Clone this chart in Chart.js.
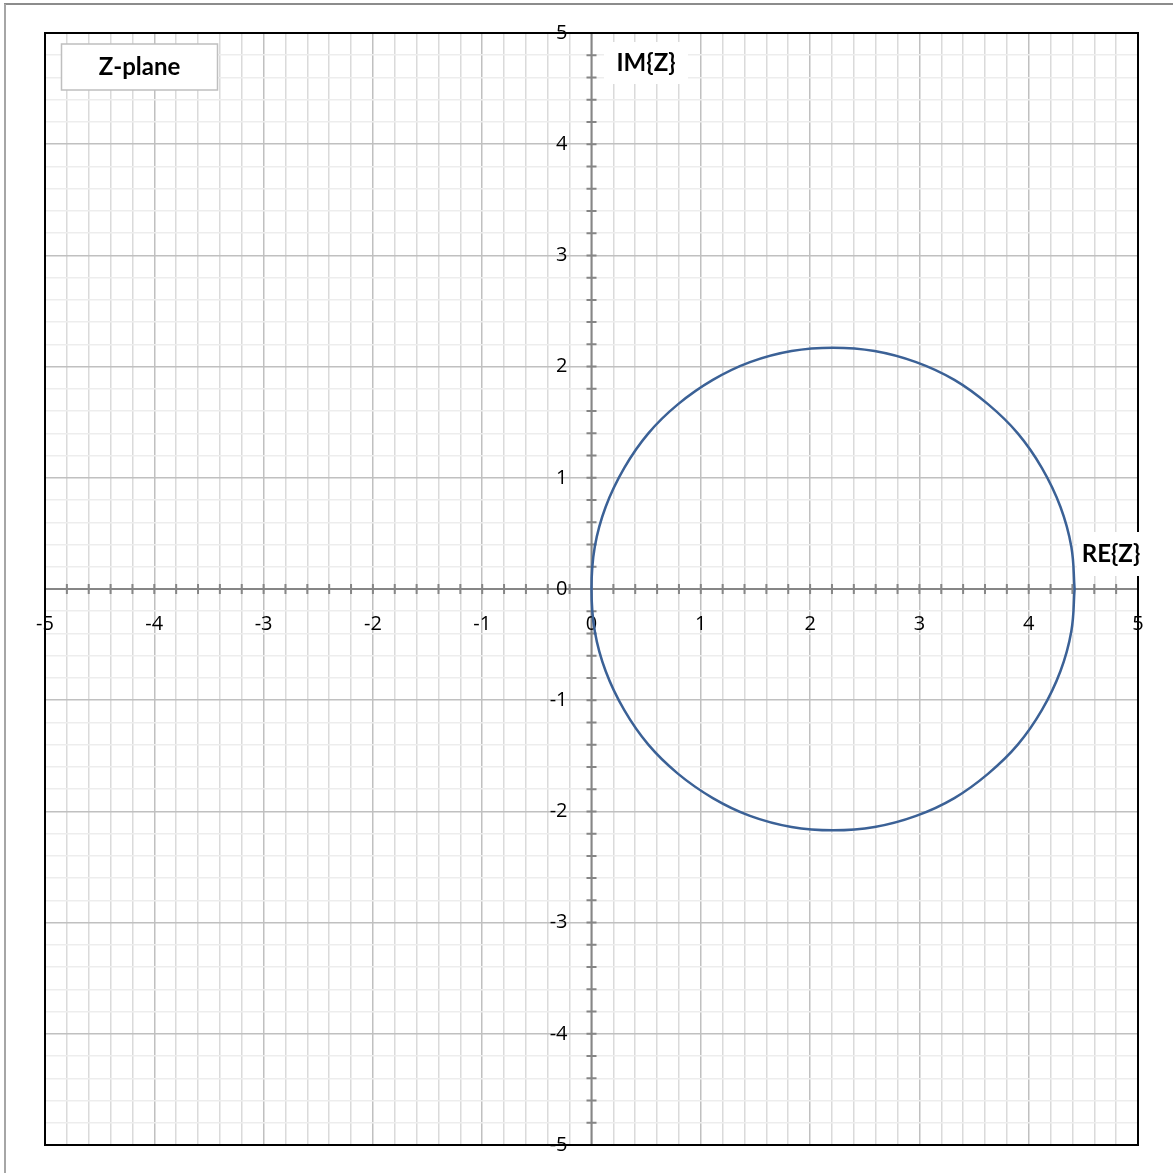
<!DOCTYPE html>
<html>
<head>
<meta charset="utf-8">
<script src="https://cdn.jsdelivr.net/npm/chart.js@4.4.0/dist/chart.umd.min.js"></script>
<style>
html, body { margin: 0; padding: 0; background: #fff; }
</style>
</head>
<body>
<canvas id="zplane" width="1173" height="1173"></canvas>
<script>
// circle, one point every 10 degrees
const reZ = [4.42, 4.39, 4.29, 4.12, 3.90, 3.63, 3.32, 2.97, 2.59, 2.21, 1.83, 1.45, 1.11, 0.79, 0.52, 0.30, 0.13, 0.03, 0.00,
             0.03, 0.13, 0.30, 0.52, 0.79, 1.11, 1.45, 1.83, 2.21, 2.59, 2.97, 3.32, 3.63, 3.90, 4.12, 4.29, 4.39, 4.42];
const imZ = [0, 0.38, 0.74, 1.09, 1.40, 1.66, 1.88, 2.04, 2.14, 2.17, 2.14, 2.04, 1.88, 1.66, 1.40, 1.09, 0.74, 0.38, 0,
             -0.38, -0.74, -1.09, -1.40, -1.66, -1.88, -2.04, -2.14, -2.17, -2.14, -2.04, -1.88, -1.66, -1.40, -1.09, -0.74, -0.38, 0];

const axisTicks = [-5, -4, -3, -2, -1, 0, 1, 2, 3, 4, 5];
const axisLabels = ['-5', '-4', '-3', '-2', '-1', '0', '1', '2', '3', '4', '5'];
const planeTitle = 'Z-plane';
const reName = 'RE{Z}';
const imName = 'IM{Z}';

const points = reZ.map((v, i) => ({ x: v, y: imZ[i] }));

function isMajor(v) {
    return Math.abs(v - Math.round(v)) < 1e-6;
}

function textBox(ctx, text, cx, cy, w, h, border) {
    ctx.fillStyle = '#fff';
    ctx.fillRect(cx - w / 2, cy - h / 2, w, h);
    if (border) {
        ctx.strokeStyle = '#bfbfbf';
        ctx.lineWidth = 1.5;
        ctx.strokeRect(cx - w / 2, cy - h / 2, w, h);
    }
    ctx.fillStyle = '#000';
    ctx.font = 'bold 24px Lato';
    ctx.textAlign = 'center';
    ctx.textBaseline = 'middle';
    ctx.fillText(text, cx, cy);
}

const zPlanePlugin = {
    id: 'zPlane',
    beforeDatasetsDraw(chart) {
        const ctx = chart.ctx;
        const a = chart.chartArea;
        const x = chart.scales.x;
        const y = chart.scales.y;
        const x0 = x.getPixelForValue(0);
        const y0 = y.getPixelForValue(0);

        ctx.save();
        ctx.strokeStyle = '#868686';
        ctx.lineWidth = 2;
        ctx.beginPath();
        ctx.moveTo(a.left, y0);
        ctx.lineTo(a.right, y0);
        ctx.moveTo(x0, a.top);
        ctx.lineTo(x0, a.bottom);
        x.ticks.forEach(t => {
            const px = x.getPixelForValue(t.value);
            ctx.moveTo(px, y0 - 5);
            ctx.lineTo(px, y0 + 5);
        });
        y.ticks.forEach(t => {
            const py = y.getPixelForValue(t.value);
            ctx.moveTo(x0 - 5, py);
            ctx.lineTo(x0 + 5, py);
        });
        ctx.stroke();

        ctx.fillStyle = '#000';
        ctx.font = '20px "Open Sans"';
        ctx.textAlign = 'center';
        ctx.textBaseline = 'middle';
        axisTicks.forEach((v, i) => {
            ctx.fillText(axisLabels[i], x.getPixelForValue(v), y0 + 35);
        });
        ctx.textAlign = 'right';
        axisTicks.forEach((v, i) => {
            ctx.fillText(axisLabels[i], x0 - 24, y.getPixelForValue(v));
        });
        ctx.restore();
    },
    afterDraw(chart) {
        const ctx = chart.ctx;
        const a = chart.chartArea;
        ctx.save();
        ctx.strokeStyle = '#000';
        ctx.lineWidth = 2;
        ctx.strokeRect(a.left, a.top, a.right - a.left, a.bottom - a.top);

        // outer frame: only top and left edges show
        ctx.lineWidth = 2;
        ctx.strokeStyle = '#8c8c8c';
        ctx.beginPath();
        ctx.moveTo(4, 4);
        ctx.lineTo(1173, 4);
        ctx.stroke();
        ctx.strokeStyle = '#a6a6a6';
        ctx.beginPath();
        ctx.moveTo(5, 4);
        ctx.lineTo(5, 1173);
        ctx.stroke();

        textBox(ctx, planeTitle, 139.5, 67, 156, 46, true);
        textBox(ctx, imName, 646, 63, 84, 42, false);
        textBox(ctx, reName, 1111, 554, 68, 44, false);
        ctx.restore();
    }
};

const ctx = document.getElementById('zplane').getContext('2d');
const zChart = new Chart(ctx, {
    type: 'scatter',
    data: {
        datasets: [{
            label: 'Z',
            data: points,
            showLine: true,
            borderColor: '#3b6196',
            borderWidth: 2.5,
            pointRadius: 0,
            fill: false,
            tension: 0.4
        }]
    },
    options: {
        responsive: false,
        animation: false,
        layout: { padding: { left: 45, top: 33, right: 35, bottom: 28 } },
        plugins: {
            legend: { display: false },
            tooltip: { enabled: false }
        },
        scales: {
            x: {
                type: 'linear',
                min: -5,
                max: 5,
                ticks: { display: false, stepSize: 0.2 },
                border: { display: false },
                grid: {
                    drawTicks: false,
                    lineWidth: 1.5,
                    color: c => isMajor(c.tick.value) ? '#c0c0c0' : '#dadada'
                }
            },
            y: {
                type: 'linear',
                min: -5,
                max: 5,
                ticks: { display: false, stepSize: 0.2 },
                border: { display: false },
                grid: {
                    drawTicks: false,
                    lineWidth: 1.5,
                    color: c => isMajor(c.tick.value) ? '#c0c0c0' : '#ededed'
                }
            }
        }
    },
    plugins: [zPlanePlugin]
});
</script>
</body>
</html>
